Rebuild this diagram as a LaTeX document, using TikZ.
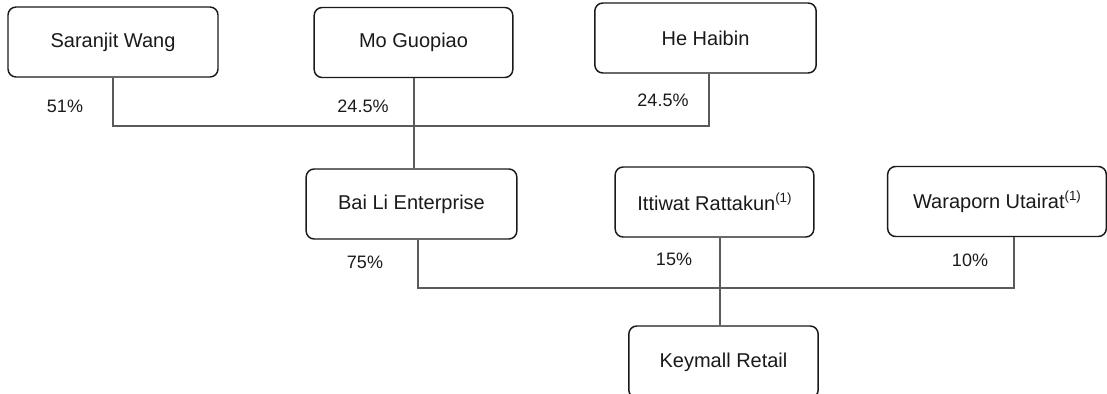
\documentclass[tikz,border=0pt]{standalone}
\usepackage{fontspec}
\setmainfont{Liberation Sans}
\usetikzlibrary{calc}
\definecolor{ink}{HTML}{1A1A1A}
\definecolor{wire}{HTML}{5A5A5A}
\newcommand{\fnref}[1]{\raisebox{0.38em}{\fontsize{10}{10}\selectfont(#1)}}
\begin{document}
\begin{tikzpicture}[x=0.75pt,y=-0.75pt,
  entity/.style={draw=ink, line width=1.1pt, rounded corners=6pt, fill=white,
    text=ink, font=\fontsize{15}{18}\selectfont, inner sep=0pt,
    minimum height=52.5pt},
  link/.style={draw=wire, line width=0.8pt},
  share/.style={text=ink, font=\fontsize{13.5}{16}\selectfont, inner sep=0pt}]
\useasboundingbox (0,0) rectangle (1107,393);
\clip (0,0) rectangle (1107,393);

% shareholders of Bai Li Enterprise
\node[entity, minimum width=157.5pt] (sw) at (113,42)   {Saranjit Wang};
\node[entity, minimum width=149pt]   (mo) at (413.5,42.5) {Mo Guopiao};
\node[entity, minimum width=166pt]   (he) at (705.5,38) {He Haibin};

% shareholders of Keymall Retail
\node[entity, minimum width=158pt]   (bl) at (411.5,204) {Bai Li Enterprise};
\node[entity, minimum width=149pt]   (it) at (714.5,202) {Ittiwat Rattakun\fnref{1}};
\node[entity, minimum width=164pt]   (wa) at (997,201.5) {Waraporn Utairat\fnref{1}};

\node[entity, minimum width=142pt, minimum height=54pt] (km) at (723.5,362) {Keymall Retail};

% ownership buses
\coordinate (busA) at (0,126);
\coordinate (busB) at (0,288);
\coordinate (heTap) at ($(he.south)+(3.5,0)$);
\coordinate (blTap) at ($(bl.south)+(6.5,0)$);
\coordinate (itTap) at ($(it.south)+(5.5,0)$);
\coordinate (waTap) at ($(wa.south)+(17,0)$);
\coordinate (moTap) at ($(mo.south)+(0.5,0)$);

\draw[link] (sw.south) -- (sw.south |- busA) -| (heTap);
\draw[link] (moTap) -- (moTap |- bl.north);
\draw[link] (blTap) -- (blTap |- busB) -| (waTap);
\draw[link] (itTap) -- (itTap |- km.north);

% percentage labels
\node[share] (p1) at (65,106)  {51\%};
\node[share] (p2) at (363,106) {24.5\%};
\node[share] (p3) at (663,100) {24.5\%};
\node[share] (p4) at (365,262) {75\%};
\node[share] (p5) at (674,259) {15\%};
\node[share] (p6) at (970,260) {10\%};
\end{tikzpicture}
\end{document}
